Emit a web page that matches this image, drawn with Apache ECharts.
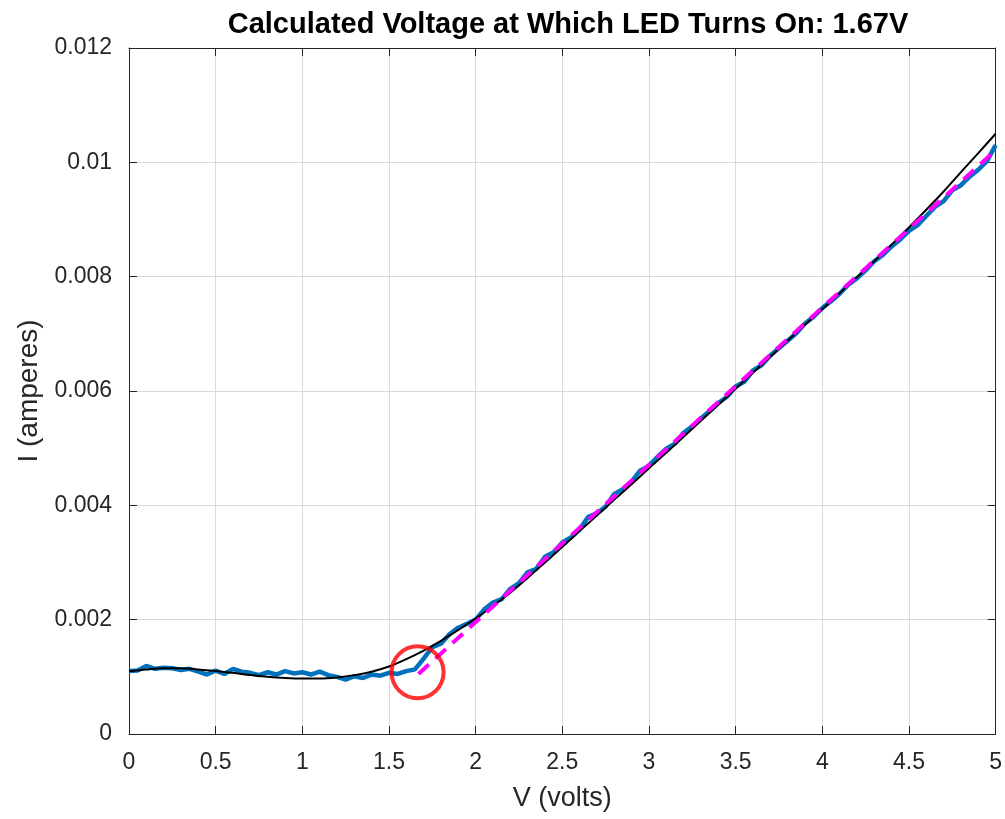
<!DOCTYPE html>
<html>
<head>
<meta charset="utf-8">
<script src="https://cdn.jsdelivr.net/npm/echarts@6/dist/echarts.min.js"></script>
<style>html,body{margin:0;padding:0;background:#fff;}#c{width:1005px;height:819px;}</style>
</head>
<body>
<div id="c"></div>
<script>
// Measured data (blue), x step 0.05 V
const measuredV = [0.00,0.05,0.10,0.15,0.20,0.25,0.30,0.35,0.40,0.45,0.50,0.55,0.60,0.65,0.70,0.75,0.80,0.85,0.90,0.95,
1.00,1.05,1.10,1.15,1.20,1.25,1.30,1.35,1.40,1.45,1.50,1.55,1.60,1.65,1.70,1.75,1.80,1.85,1.90,1.95,
2.00,2.05,2.10,2.15,2.20,2.25,2.30,2.35,2.40,2.45,2.50,2.55,2.60,2.65,2.70,2.75,2.80,2.85,2.90,2.95,
3.00,3.05,3.10,3.15,3.20,3.25,3.30,3.35,3.40,3.45,3.50,3.55,3.60,3.65,3.70,3.75,3.80,3.85,3.90,3.95,
4.00,4.05,4.10,4.15,4.20,4.25,4.30,4.35,4.40,4.45,4.50,4.55,4.60,4.65,4.70,4.75,4.80,4.85,4.90,4.95,5.00];
const measuredI = [0.00110,0.00111,0.00119,0.00114,0.00116,0.00115,0.00112,0.00114,0.00109,0.00104,
0.00111,0.00105,0.00114,0.00109,0.00107,0.00103,0.00108,0.00104,0.00110,0.00106,
0.00108,0.00104,0.00109,0.00103,0.00100,0.00095,0.00101,0.00098,0.00104,0.00102,
0.00107,0.00105,0.00110,0.00113,0.00132,0.00152,0.00158,0.00175,0.00186,0.00193,
0.00200,0.00218,0.00230,0.00236,0.00254,0.00264,0.00283,0.00289,0.00310,0.00318,
0.00335,0.00344,0.00358,0.00380,0.00386,0.00398,0.00420,0.00428,0.00442,0.00461,
0.00469,0.00485,0.00499,0.00508,0.00527,0.00538,0.00552,0.00565,0.00579,0.00590,
0.00608,0.00616,0.00636,0.00645,0.00662,0.00675,0.00688,0.00701,0.00718,0.00730,
0.00745,0.00757,0.00770,0.00786,0.00797,0.00811,0.00827,0.00838,0.00853,0.00865,
0.00880,0.00890,0.00906,0.00922,0.00932,0.00951,0.00960,0.00975,0.00987,0.01002,0.01030];

// Fitted curve (black), x step 0.1 V
const fitV = [0.0,0.1,0.2,0.3,0.4,0.5,0.6,0.7,0.8,0.9,1.0,1.1,1.2,1.3,1.4,1.5,1.6,1.7,1.8,1.9,
2.0,2.1,2.2,2.3,2.4,2.5,2.6,2.7,2.8,2.9,3.0,3.1,3.2,3.3,3.4,3.5,3.6,3.7,3.8,3.9,
4.0,4.1,4.2,4.3,4.4,4.5,4.6,4.7,4.8,4.9,5.0];
const fitI = [0.00110,0.00113,0.00115,0.00115,0.00113,0.00110,0.00107,0.00103,0.00100,0.00098,
0.00097,0.00097,0.00099,0.00103,0.00109,0.00118,0.00131,0.00146,0.00163,0.00182,
0.00202,0.00224,0.00247,0.00273,0.00300,0.00327,0.00355,0.00382,0.00410,0.00437,
0.00465,0.00492,0.00520,0.00548,0.00576,0.00604,0.00632,0.00660,0.00688,0.00716,
0.00743,0.00771,0.00799,0.00827,0.00856,0.00886,0.00917,0.00949,0.00983,0.01016,0.01050];

// Linear fit above turn-on (magenta dashed)
const linV = [1.67, 5.0];
const linI = [0.00105, 0.01021];

// Turn-on marker (red circle)
const turnOnV = [1.665];
const turnOnI = [0.00108];

const xTicks = ['0','0.5','1','1.5','2','2.5','3','3.5','4','4.5','5'];
const yTicks = ['0','0.002','0.004','0.006','0.008','0.01','0.012'];
const titleText = 'Calculated Voltage at Which LED Turns On: 1.67V';

const zip = (a, b) => a.map((v, i) => [v, b[i]]);
const FONT = '"Liberation Sans", Arial, Helvetica, sans-serif';
const TXT = '#262626';

const chart = echarts.init(document.getElementById('c'), null, {renderer: 'canvas'});
const baseAxis = {
  axisLine: {show: true, onZero: false, lineStyle: {color: TXT, width: 1}},
  axisTick: {show: true, inside: true, length: 8, lineStyle: {color: TXT}},
};
chart.setOption({
  animation: false,
  backgroundColor: '#ffffff',
  title: {
    text: titleText, left: 563, top: 5, textAlign: 'center',
    textStyle: {fontFamily: FONT, fontWeight: 'bold', fontSize: 29, color: '#000'}
  },
  grid: {left: 129, right: 9, top: 48, bottom: 85, containLabel: false},
  xAxis: [
    Object.assign({}, baseAxis, {
      type: 'value', min: 0, max: 5, interval: 0.5, position: 'bottom',
      name: 'V (volts)', nameLocation: 'middle', nameGap: 51,
      nameTextStyle: {fontFamily: FONT, fontSize: 27, color: TXT},
      axisLabel: {fontFamily: FONT, fontSize: 23, color: TXT, margin: 17,
        formatter: v => xTicks[Math.round(v / 0.5)]},
      splitLine: {show: true, lineStyle: {color: '#dadada', width: 1}}
    }),
    Object.assign({}, baseAxis, {
      type: 'value', min: 0, max: 5, interval: 0.5, position: 'top',
      axisLabel: {show: false}, splitLine: {show: false}
    })
  ],
  yAxis: [
    Object.assign({}, baseAxis, {
      type: 'value', min: 0, max: 0.012, interval: 0.002, position: 'left',
      name: 'I (amperes)', nameLocation: 'middle', nameGap: 82, nameRotate: 90,
      nameTextStyle: {fontFamily: FONT, fontSize: 28, color: TXT},
      axisLabel: {fontFamily: FONT, fontSize: 23, color: TXT, margin: 17,
        formatter: v => yTicks[Math.round(v / 0.002)]},
      splitLine: {show: true, lineStyle: {color: '#dadada', width: 1}}
    }),
    Object.assign({}, baseAxis, {
      type: 'value', min: 0, max: 0.012, interval: 0.002, position: 'right',
      axisLabel: {show: false}, splitLine: {show: false}
    })
  ],
  series: [
    {
      type: 'line', name: 'measured', data: zip(measuredV, measuredI),
      showSymbol: false, lineStyle: {color: '#0072BD', width: 4.5}, z: 2
    },
    {
      type: 'line', name: 'fit', data: zip(fitV, fitI), smooth: 0.3,
      showSymbol: false, lineStyle: {color: '#000000', width: 2}, z: 3
    },
    {
      type: 'line', name: 'linear', data: zip(linV, linI),
      showSymbol: false, lineStyle: {color: '#FF00FF', width: 4, type: [14, 9]}, z: 4
    },
    {
      type: 'scatter', name: 'turn-on', data: zip(turnOnV, turnOnI),
      symbol: 'circle', symbolSize: 52,
      itemStyle: {color: 'rgba(0,0,0,0)', borderColor: '#FF0000', borderWidth: 4}, z: 5
    }
  ]
});
</script>
</body>
</html>
